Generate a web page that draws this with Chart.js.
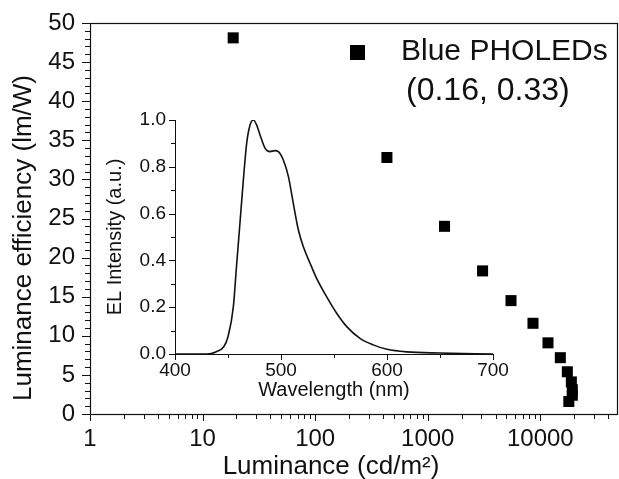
<!DOCTYPE html>
<html>
<head>
<meta charset="utf-8">
<script src="https://cdn.jsdelivr.net/npm/chart.js@4.4.1/dist/chart.umd.min.js"></script>
<style>
  html, body { margin: 0; padding: 0; background: #fff; }
  #wrap { position: relative; width: 619px; height: 479px; }
  #wrap canvas { position: absolute; left: 0; top: 0; }
  #inset { pointer-events: none; }
</style>
</head>
<body>
<div id="wrap">
  <canvas id="main" width="619" height="479"></canvas>
  <canvas id="inset" width="619" height="479"></canvas>
</div>
<script>
// main plot: luminance vs efficiency
var luminance = [18.7, 434, 1410, 3070, 5490, 8610, 11700, 15060, 17380, 18870, 19250, 19250, 17920];
var efficiency = [48.1, 32.8, 24.0, 18.3, 14.5, 11.6, 9.1, 7.2, 5.4, 4.1, 3.1, 2.4, 1.6];
var xMajor = [1, 10, 100, 1000, 10000];

// inset: EL spectrum
var wavelength = [400, 430, 439, 446, 450, 455, 458, 461, 464.5, 467.6, 470.8, 474, 477, 480.2, 485, 489.6, 494.3, 497.5, 502.2, 507, 511.6, 516.4, 521, 527.4, 533.6, 543, 552.5, 562, 574.5, 587, 600, 618.6, 650, 700];
var intensity  = [0.0, 0.0, 0.01, 0.031, 0.074, 0.2, 0.373, 0.544, 0.744, 0.9, 0.979, 1.0, 0.979, 0.936, 0.879, 0.865, 0.869, 0.865, 0.829, 0.758, 0.644, 0.53, 0.459, 0.388, 0.323, 0.245, 0.174, 0.117, 0.067, 0.039, 0.02, 0.009, 0.004, 0.0];

var FONT = "'Liberation Sans', Arial, sans-serif";
var INK = '#111';
Chart.defaults.font.family = FONT;
Chart.defaults.color = INK;

function marks(ctx, scale, vals, len) {
  vals.forEach(function (v) {
    var p = Math.round(scale.getPixelForValue(v)) + 0.5;
    ctx.beginPath();
    if (scale.isHorizontal()) {
      ctx.moveTo(p, scale.top);
      ctx.lineTo(p, scale.top + len);
    } else {
      ctx.moveTo(scale.right, p);
      ctx.lineTo(scale.right - len, p);
    }
    ctx.stroke();
  });
}

// keep label overflow from pushing the plot area around
function pin(size) {
  return function (s) {
    if (s.isHorizontal()) s.height = size; else s.width = size;
    s.paddingTop = 0; s.paddingBottom = 0; s.paddingLeft = 0; s.paddingRight = 0;
  };
}

var mainDeco = {
  id: 'mainDeco',
  afterDraw: function (chart) {
    var ctx = chart.ctx, a = chart.chartArea;
    var xs = chart.scales.x, ys = chart.scales.y;
    ctx.save();
    ctx.strokeStyle = INK;
    ctx.lineWidth = 1.2;
    ctx.strokeRect(a.left + 0.5, a.top + 0.5, a.right - a.left, a.bottom - a.top);

    var yMin = [], yMaj = [];
    for (var i = 0; i <= 50; i++) { (i % 5 === 0 ? yMaj : yMin).push(i); }
    var xMin = [];
    xMajor.forEach(function (d) {
      for (var k = 2; k <= 9; k++) { if (d * k <= xs.max) xMin.push(d * k); }
    });
    ctx.lineWidth = 1;
    marks(ctx, ys, yMaj, 8);
    marks(ctx, ys, yMin, 5);
    marks(ctx, xs, xMajor, 7);
    marks(ctx, xs, xMin, 5);

    // axis titles
    ctx.fillStyle = INK;
    ctx.font = '26px ' + FONT;
    ctx.textAlign = 'center';
    ctx.textBaseline = 'middle';
    ctx.fillText('Luminance (cd/m\u00B2)', 331, 467);
    ctx.save();
    ctx.translate(24, 238);
    ctx.rotate(-Math.PI / 2);
    ctx.fillText('Luminance efficiency (lm/W)', 0, 0);
    ctx.restore();

    // legend
    ctx.fillStyle = '#000';
    ctx.fillRect(350, 45, 15, 15);
    ctx.fillStyle = INK;
    ctx.textAlign = 'left';
    ctx.textBaseline = 'alphabetic';
    ctx.font = '30px ' + FONT;
    ctx.fillText('Blue PHOLEDs', 401, 60);
    ctx.font = '32px ' + FONT;
    ctx.fillText('(0.16, 0.33)', 406, 100);
    ctx.restore();
  }
};

var insetDeco = {
  id: 'insetDeco',
  afterDraw: function (chart) {
    var ctx = chart.ctx, a = chart.chartArea;
    var xs = chart.scales.x, ys = chart.scales.y;
    ctx.save();
    ctx.strokeStyle = INK;
    ctx.lineWidth = 1;
    ctx.beginPath();
    ctx.moveTo(a.left + 0.5, a.top);
    ctx.lineTo(a.left + 0.5, a.bottom + 0.5);
    ctx.lineTo(a.right, a.bottom + 0.5);
    ctx.stroke();
    marks(ctx, ys, [0, 0.2, 0.4, 0.6, 0.8, 1.0], 6);
    marks(ctx, ys, [0.1, 0.3, 0.5, 0.7, 0.9], 4);
    marks(ctx, xs, [400, 500, 600, 700], 6);
    marks(ctx, xs, [450, 550, 650], 4);
    ctx.restore();
  }
};

new Chart(document.getElementById('main'), {
  type: 'scatter',
  data: {
    datasets: [{
      data: luminance.map(function (v, i) { return { x: v, y: efficiency[i] }; }),
      pointStyle: 'rect',
      pointRadius: 7.8,
      backgroundColor: '#000',
      borderWidth: 0
    }]
  },
  options: {
    responsive: false,
    animation: false,
    layout: { autoPadding: false, padding: { left: 0, top: 23, right: 2, bottom: 0 } },
    plugins: { legend: { display: false }, tooltip: { enabled: false } },
    scales: {
      x: {
        type: 'logarithmic',
        min: 1,
        max: 48000,
        grid: { display: false, drawTicks: false },
        border: { display: false },
        ticks: {
          font: { size: 24 }, color: INK, padding: 11,
          maxRotation: 0, autoSkip: false,
          callback: function (v) { return String(v); }
        },
        afterBuildTicks: function (s) { s.ticks = xMajor.map(function (v) { return { value: v }; }); },
        afterFit: pin(65)
      },
      y: {
        min: 0,
        max: 50,
        grid: { display: false, drawTicks: false },
        border: { display: false },
        ticks: { stepSize: 5, font: { size: 24 }, color: INK, padding: 15 },
        afterFit: pin(90)
      }
    }
  },
  plugins: [mainDeco]
});

new Chart(document.getElementById('inset'), {
  type: 'line',
  data: {
    datasets: [{
      data: wavelength.map(function (v, i) { return { x: v, y: intensity[i] }; }),
      borderColor: INK,
      borderWidth: 1.6,
      pointRadius: 0,
      fill: false,
      cubicInterpolationMode: 'monotone'
    }]
  },
  options: {
    responsive: false,
    animation: false,
    layout: { autoPadding: false, padding: { left: 103, top: 120, right: 126, bottom: 77 } },
    plugins: { legend: { display: false }, tooltip: { enabled: false } },
    scales: {
      x: {
        type: 'linear',
        min: 400,
        max: 700,
        grid: { display: false, drawTicks: false },
        border: { display: false },
        ticks: { stepSize: 100, font: { size: 19 }, color: INK, padding: 5, maxRotation: 0 },
        title: { display: true, text: 'Wavelength (nm)', font: { size: 20 }, color: INK, padding: 0 },
        afterFit: pin(48)
      },
      y: {
        min: 0,
        max: 1,
        grid: { display: false, drawTicks: false },
        border: { display: false },
        ticks: { stepSize: 0.2, font: { size: 19 }, color: INK, padding: 9,
          callback: function (v) { return v.toFixed(1); } },
        title: { display: true, text: 'EL Intensity (a.u.)', font: { size: 20 }, color: INK, padding: 0 },
        afterFit: pin(72)
      }
    }
  },
  plugins: [insetDeco]
});
</script>
</body>
</html>
